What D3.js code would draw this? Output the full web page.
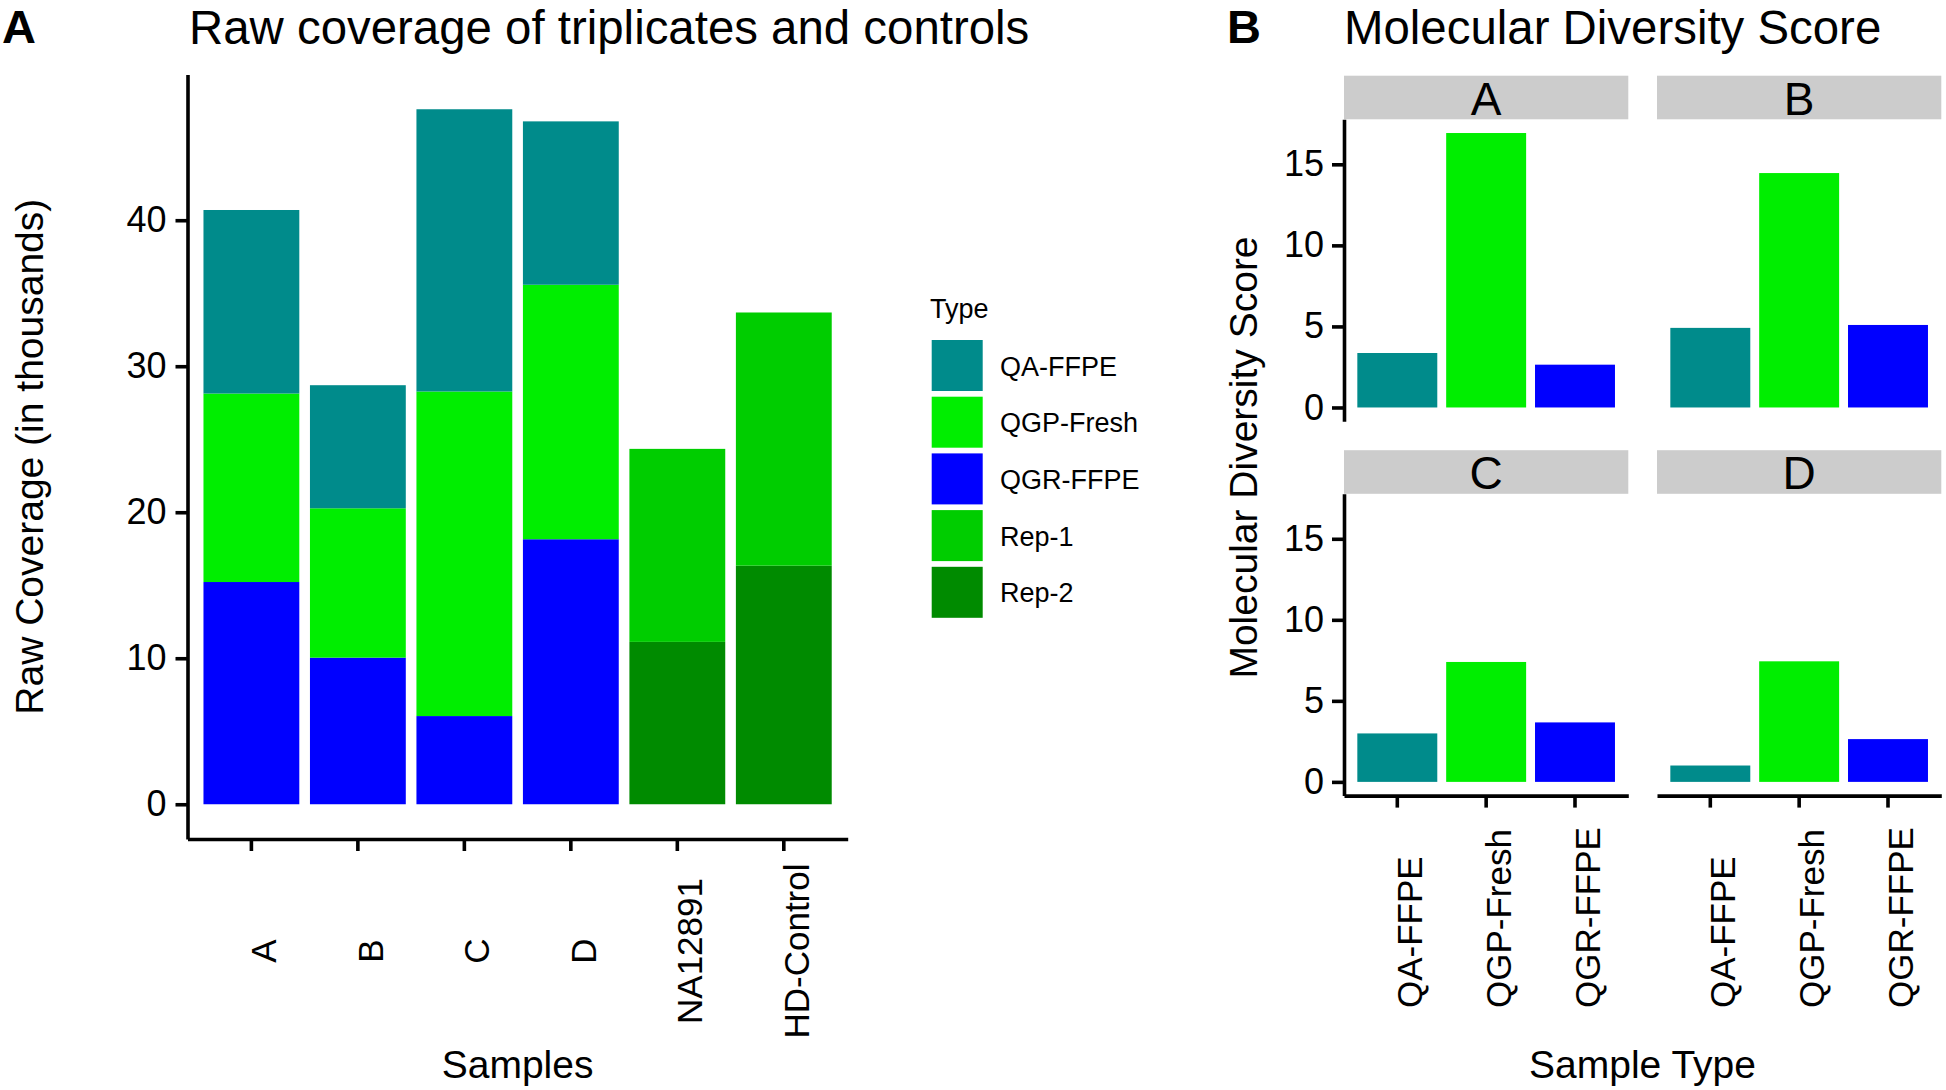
<!DOCTYPE html>
<html>
<head>
<meta charset="utf-8">
<script src="https://cdn.jsdelivr.net/npm/d3@7"></script>
<style>
	body { margin: 0; background: #fff; }
	svg { display: block; font-family: "Liberation Sans", Arial, Helvetica, sans-serif; }
</style>
</head>
<body>
<svg id="chart" width="1946" height="1090"></svg>
<script>
// ---- panel A data: raw coverage (thousands), one array per type, in sample order
const samples = ['A', 'B', 'C', 'D', 'NA12891', 'HD-Control'];
const qaFFPE   = [12.57, 8.43, 19.33, 11.19, 0, 0];
const qgpFresh = [12.91, 10.23, 22.23, 17.43, 0, 0];
const qgrFFPE  = [15.22, 10.04, 6.04, 18.15, 0, 0];
const rep1     = [0, 0, 0, 0, 13.22, 17.34];
const rep2     = [0, 0, 0, 0, 11.12, 16.34];
const yTicksA  = [0, 10, 20, 30, 40];

// ---- legend
const types  = ['QA-FFPE', 'QGP-Fresh', 'QGR-FFPE', 'Rep-1', 'Rep-2'];
const colors = ['#008B8B', '#00EE00', '#0000FF', '#00CD00', '#008B00'];
const stackOrder = ['QGR-FFPE', 'QGP-Fresh', 'QA-FFPE', 'Rep-2', 'Rep-1'];

// ---- panel B data: molecular diversity score per facet
const mdsTypes = ['QA-FFPE', 'QGP-Fresh', 'QGR-FFPE'];
const facetNames = ['A', 'B', 'C', 'D'];
const mdsA = [3.36, 16.93, 2.64];
const mdsB = [4.91, 14.46, 5.09];
const mdsC = [2.99, 7.40, 3.67];
const mdsD = [1.01, 7.44, 2.64];
const yTicksB = [0, 5, 10, 15];

const color = d3.scaleOrdinal().domain(types).range(colors);
const svg = d3.select('#chart');

function styleAxis(g, size) {
	g.attr('font-size', size)
		.attr('font-family', '"Liberation Sans", Arial, Helvetica, sans-serif')
		.attr('color', '#000');
	g.selectAll('path, line').attr('stroke-width', 3.6);
}

// ================= panel A =================
const rows = samples.map((s, i) => ({
	sample: s,
	'QA-FFPE': qaFFPE[i],
	'QGP-Fresh': qgpFresh[i],
	'QGR-FFPE': qgrFFPE[i],
	'Rep-1': rep1[i],
	'Rep-2': rep2[i]
}));
const stacked = d3.stack().keys(stackOrder)(rows);
const totalMax = d3.max(rows, r => stackOrder.reduce((a, k) => a + r[k], 0));

const xA = d3.scaleBand().domain(samples).range([187.5, 847.7]).paddingInner(0.1).paddingOuter(0.15);
const yA = d3.scaleLinear().domain([-0.05 * totalMax, 1.05 * totalMax]).range([839, 74.5]);

const gA = svg.append('g');
gA.selectAll('g.layer')
	.data(stacked)
	.enter()
		.append('g')
		.attr('fill', d => color(d.key))
		.selectAll('rect')
		.data(d => d.filter(p => p[1] > p[0]))
		.enter()
			.append('rect')
			.attr('x', d => xA(d.data.sample))
			.attr('width', xA.bandwidth())
			.attr('y', d => yA(d[1]))
			.attr('height', d => yA(d[0]) - yA(d[1]));

gA.append('g')
	.attr('transform', 'translate(187.5,0)')
	.call(d3.axisLeft(yA).tickValues(yTicksA).tickSizeInner(12).tickSizeOuter(0).tickPadding(9))
	.call(g => styleAxis(g, 36));

gA.append('g')
	.attr('transform', 'translate(0,839)')
	.call(d3.axisBottom(xA).tickSizeInner(12).tickSizeOuter(0))
	.call(g => styleAxis(g, 35))
	.call(g => g.selectAll('.tick text')
		.attr('x', 0).attr('y', 0).attr('dy', 0)
		.attr('text-anchor', 'middle')
		.attr('transform', 'translate(25,112) rotate(-90)'));

gA.append('text')
	.attr('transform', 'translate(43,456.7) rotate(-90)')
	.attr('text-anchor', 'middle')
	.attr('font-size', 39)
	.text('Raw Coverage (in thousands)');

gA.append('text')
	.attr('x', 517.6).attr('y', 1078)
	.attr('text-anchor', 'middle')
	.attr('font-size', 39)
	.text('Samples');

svg.append('text').attr('x', 2).attr('y', 43)
	.attr('font-size', 47).attr('font-weight', 'bold').text('A');
svg.append('text').attr('x', 189).attr('y', 44)
	.attr('font-size', 47.4).text('Raw coverage of triplicates and controls');

// legend
const leg = svg.append('g');
leg.append('text').attr('x', 930).attr('y', 318).attr('font-size', 27).text('Type');
types.forEach((t, i) => {
	const y0 = 340 + i * 56.7;
	leg.append('rect')
		.attr('x', 931.7).attr('y', y0)
		.attr('width', 51).attr('height', 51)
		.attr('fill', color(t));
	leg.append('text')
		.attr('x', 1000).attr('y', y0 + 25.5 + 10)
		.attr('font-size', 27)
		.text(t);
});

// ================= panel B =================
const facetVals = [mdsA, mdsB, mdsC, mdsD];
const mdsMax = d3.max(facetVals, v => d3.max(v));
const colX = [[1344, 1628.3], [1657, 1941.3]];
const rowY = [[119.3, 421.2], [493.8, 795.6]];
const stripH = 43.6;

facetNames.forEach((name, fi) => {
	const col = fi % 2, row = Math.floor(fi / 2);
	const [x0, x1] = colX[col];
	const [top, bottom] = rowY[row];
	const xB = d3.scaleBand().domain(mdsTypes).range([x0, x1]).paddingInner(0.1).paddingOuter(0.15);
	const yB = d3.scaleLinear().domain([-0.05 * mdsMax, 1.05 * mdsMax]).range([bottom, top]);
	const g = svg.append('g');

	g.append('rect')
		.attr('x', x0).attr('y', top - stripH)
		.attr('width', x1 - x0).attr('height', stripH)
		.attr('fill', '#cccccc');
	g.append('text')
		.attr('x', (x0 + x1) / 2).attr('y', top - 4.5)
		.attr('text-anchor', 'middle')
		.attr('font-size', 46)
		.text(name);

	g.selectAll('rect.bar')
		.data(mdsTypes.map((t, i) => ({ type: t, value: facetVals[fi][i] })))
		.enter()
			.append('rect')
			.classed('bar', true)
			.attr('x', d => xB(d.type))
			.attr('width', xB.bandwidth())
			.attr('y', d => yB(d.value))
			.attr('height', d => yB(0) - yB(d.value))
			.attr('fill', d => color(d.type));

	if (col === 0) {
		g.append('g')
			.attr('transform', `translate(${x0},0)`)
			.call(d3.axisLeft(yB).tickValues(yTicksB).tickSizeInner(12).tickSizeOuter(0).tickPadding(8))
			.call(a => styleAxis(a, 36));
	}
	if (row === 1) {
		g.append('g')
			.attr('transform', `translate(0,${bottom})`)
			.call(d3.axisBottom(xB).tickSizeInner(12).tickSizeOuter(0))
			.call(a => styleAxis(a, 35))
			.call(a => a.selectAll('.tick text')
				.attr('x', 0).attr('y', 0).attr('dy', 0)
				.attr('text-anchor', 'start')
				.attr('transform', `translate(25,${1008 - bottom}) rotate(-90)`));
	}
});

svg.append('text')
	.attr('transform', 'translate(1257,457.5) rotate(-90)')
	.attr('text-anchor', 'middle')
	.attr('font-size', 39)
	.text('Molecular Diversity Score');

svg.append('text')
	.attr('x', 1642.5).attr('y', 1078)
	.attr('text-anchor', 'middle')
	.attr('font-size', 39)
	.text('Sample Type');

svg.append('text').attr('x', 1227).attr('y', 43)
	.attr('font-size', 47).attr('font-weight', 'bold').text('B');
svg.append('text').attr('x', 1344).attr('y', 44)
	.attr('font-size', 47.4).text('Molecular Diversity Score');
</script>
</body>
</html>
